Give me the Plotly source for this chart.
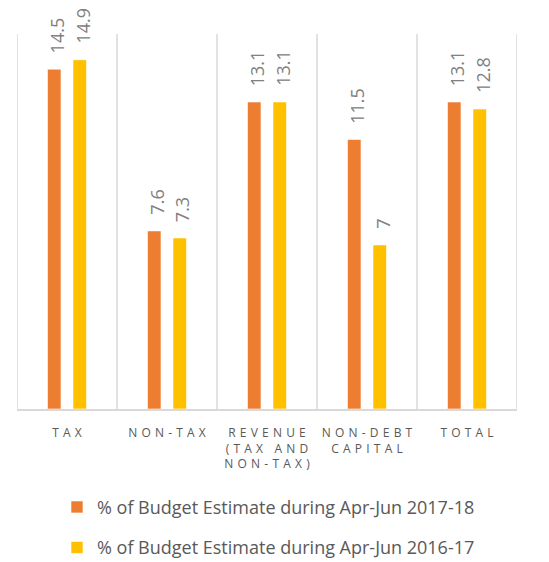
import plotly.graph_objects as go

# Revenue receipts as % of budget estimate, Apr-Jun
categories = ["TAX", "NON-TAX", "REVENUE\n(TAX AND\nNON-TAX)", "NON-DEBT\nCAPITAL", "TOTAL"]
share_2017_18 = [14.5, 7.6, 13.1, 11.5, 13.1]
share_2016_17 = [14.9, 7.3, 13.1, 7, 12.8]
series_names = [
    "% of Budget Estimate during Apr-Jun 2017-18",
    "% of Budget Estimate during Apr-Jun 2016-17",
]
colors = ["#ED7D31", "#FFC000"]

BARGAP = 0.49
BARGROUPGAP = 0.47


def spaced(label):
    # widen the letter spacing of the axis labels, keep line breaks
    lines = label.split("\n")
    return "<br>".join("\u2005\u200a".join(list(line)) for line in lines)


tick_text = [spaced(c) for c in categories]
x_idx = list(range(len(categories)))

fig = go.Figure()
legend_ids = ["legend", "legend2"]
for name, vals, col, lg in zip(series_names, [share_2017_18, share_2016_17], colors, legend_ids):
    fig.add_trace(go.Bar(
        name=name, x=x_idx, y=vals, legend=lg,
        marker=dict(color=col, line=dict(color="white", width=0.6)),
    ))

# rotated value labels above each bar
slot = (1 - BARGAP) / 2
for k, vals in enumerate([share_2017_18, share_2016_17]):
    off = (k - 0.5) * slot
    for i, v in enumerate(vals):
        fig.add_annotation(
            x=i + off, y=v, xref="x", yref="y",
            text=f"{v:g}", textangle=-90, showarrow=False,
            yanchor="bottom", xanchor="center", yshift=14, xshift=3,
            font=dict(family="Open Sans", size=18, color="#808080"),
        )

legend_style = dict(
    orientation="v", x=0.08, xanchor="left", yanchor="middle",
    font=dict(family="Open Sans", size=18, color="#595959"),
    bgcolor="rgba(0,0,0,0)",
)

fig.update_layout(
    width=549, height=562,
    margin=dict(l=17, r=32, t=34, b=153, autoexpand=False),
    paper_bgcolor="white", plot_bgcolor="white",
    barmode="group", bargap=BARGAP, bargroupgap=BARGROUPGAP,
    showlegend=True,
    legend=dict(legend_style, y=-0.262),
    legend2=dict(legend_style, y=-0.37),
    xaxis=dict(
        range=[-0.5, 4.5],
        tickmode="array", tickvals=x_idx, ticktext=tick_text,
        tickfont=dict(family="Open Sans", size=12, color="#595959"),
        ticklabelstandoff=12,
        showgrid=False, zeroline=False,
        showline=True, linecolor="#D9D9D9", linewidth=1.5,
        ticks="", ticklen=0,
    ),
    yaxis=dict(range=[0, 16], visible=False, showgrid=False, zeroline=False),
)

# category separators
for b in [i - 0.5 for i in range(len(categories) + 1)]:
    fig.add_shape(type="line", xref="x", yref="paper", x0=b, x1=b, y0=0, y1=1,
                  line=dict(color="#D9D9D9", width=1.5), layer="below")

fig.write_html("out.html")
